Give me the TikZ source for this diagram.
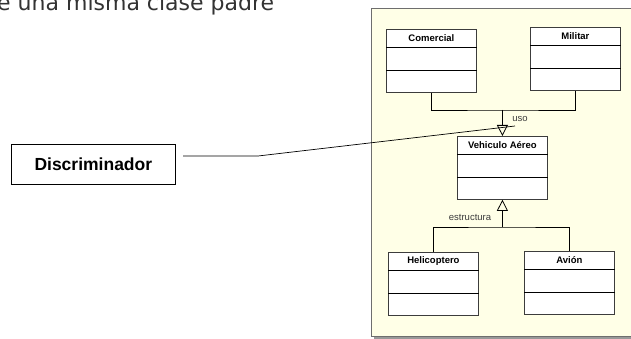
\documentclass[tikz,border=0pt]{standalone}
\usepackage{fontspec}
\setmainfont{Liberation Sans}
\newfontfamily\topfont{DejaVu Sans}
\usetikzlibrary{arrows.meta}
\definecolor{panelfill}{RGB}{255,255,231}
\definecolor{panelline}{RGB}{110,110,110}
\definecolor{boxline}{RGB}{60,60,60}
\definecolor{labelgray}{RGB}{60,60,60}
\tikzset{
  umlbox/.style={draw=boxline, line width=0.8pt, fill=white, minimum width=90pt, minimum height=63pt, inner sep=0pt},
  umlline/.style={draw=black, line width=0.7pt},
  umltitle/.style={font=\bfseries\fontsize{9.5}{10}\selectfont, inner sep=0pt},
  conn/.style={draw=black, line width=0.7pt},
  gen/.style={conn, -{Triangle[open, length=11pt, width=11pt, line width=0.8pt]}},
  smalllabel/.style={font=\fontsize{9.5}{10}\selectfont, text=labelgray, inner sep=0pt},
  discbox/.style={draw=black, line width=0.7pt, fill=white, minimum width=164pt, minimum height=40pt, inner sep=0pt, font=\bfseries\fontsize{17.5}{19}\selectfont}
}
\newcommand{\umlcls}[4]{%
  \node[umlbox, anchor=north west] (#1) at (#2,#3) {};
  \draw[umlline] ([yshift=-18pt]#1.north west) -- ([yshift=-18pt]#1.north east);
  \draw[umlline] ([yshift=-41pt]#1.north west) -- ([yshift=-41pt]#1.north east);
  \node[umltitle] (#1-t) at ([yshift=-9.5pt]#1.north) {#4};%
}
\begin{document}
\begin{tikzpicture}[x=1pt, y=-1pt]
\clip (0,0) rectangle (631,339);
\fill[white] (0,0) rectangle (631,339);
% top text (cut off)
\node[anchor=base west, inner sep=0pt, text=black!80, font=\topfont\fontsize{22}{24}\selectfont] (toptext) at (-3,11) {e una misma clase padre};
% panel with shadow
\fill[gray!80] (374,11) rectangle (640,338.5);
\filldraw[fill=panelfill, draw=panelline, line width=0.8pt] (371,8) rectangle (640,336);
% classes
\umlcls{comercial}{386}{29}{Comercial}
\umlcls{militar}{530}{27}{Militar}
\umlcls{vehiculo}{457}{136}{Vehiculo Aéreo}
\umlcls{heli}{388}{252}{Helicoptero}
\umlcls{avion}{524}{251}{Avión}
% generalization uso
\coordinate (j1) at (vehiculo.north |- 0,110);
\draw[conn] (comercial.south) |- (j1) -| (militar.south);
\draw[gen] (j1) -- (vehiculo.north);
\node[smalllabel] (uso) at (520,119) {uso};
% generalization estructura
\coordinate (j2) at (vehiculo.south |- 0,227);
\draw[conn] (heli.north) |- (j2) -| (avion.north);
\draw[gen] (j2) -- (vehiculo.south);
\node[smalllabel] (estr) at (470,217) {estructura};
% discriminator
\node[discbox, anchor=north west] (disc) at (11,144) {Discriminador};
\coordinate (d1) at (183,156);
\coordinate (d2) at (258,156);
\coordinate (d3) at (515,126);
\draw[conn] (d1) -- (d2) -- (d3);
\end{tikzpicture}
\end{document}
